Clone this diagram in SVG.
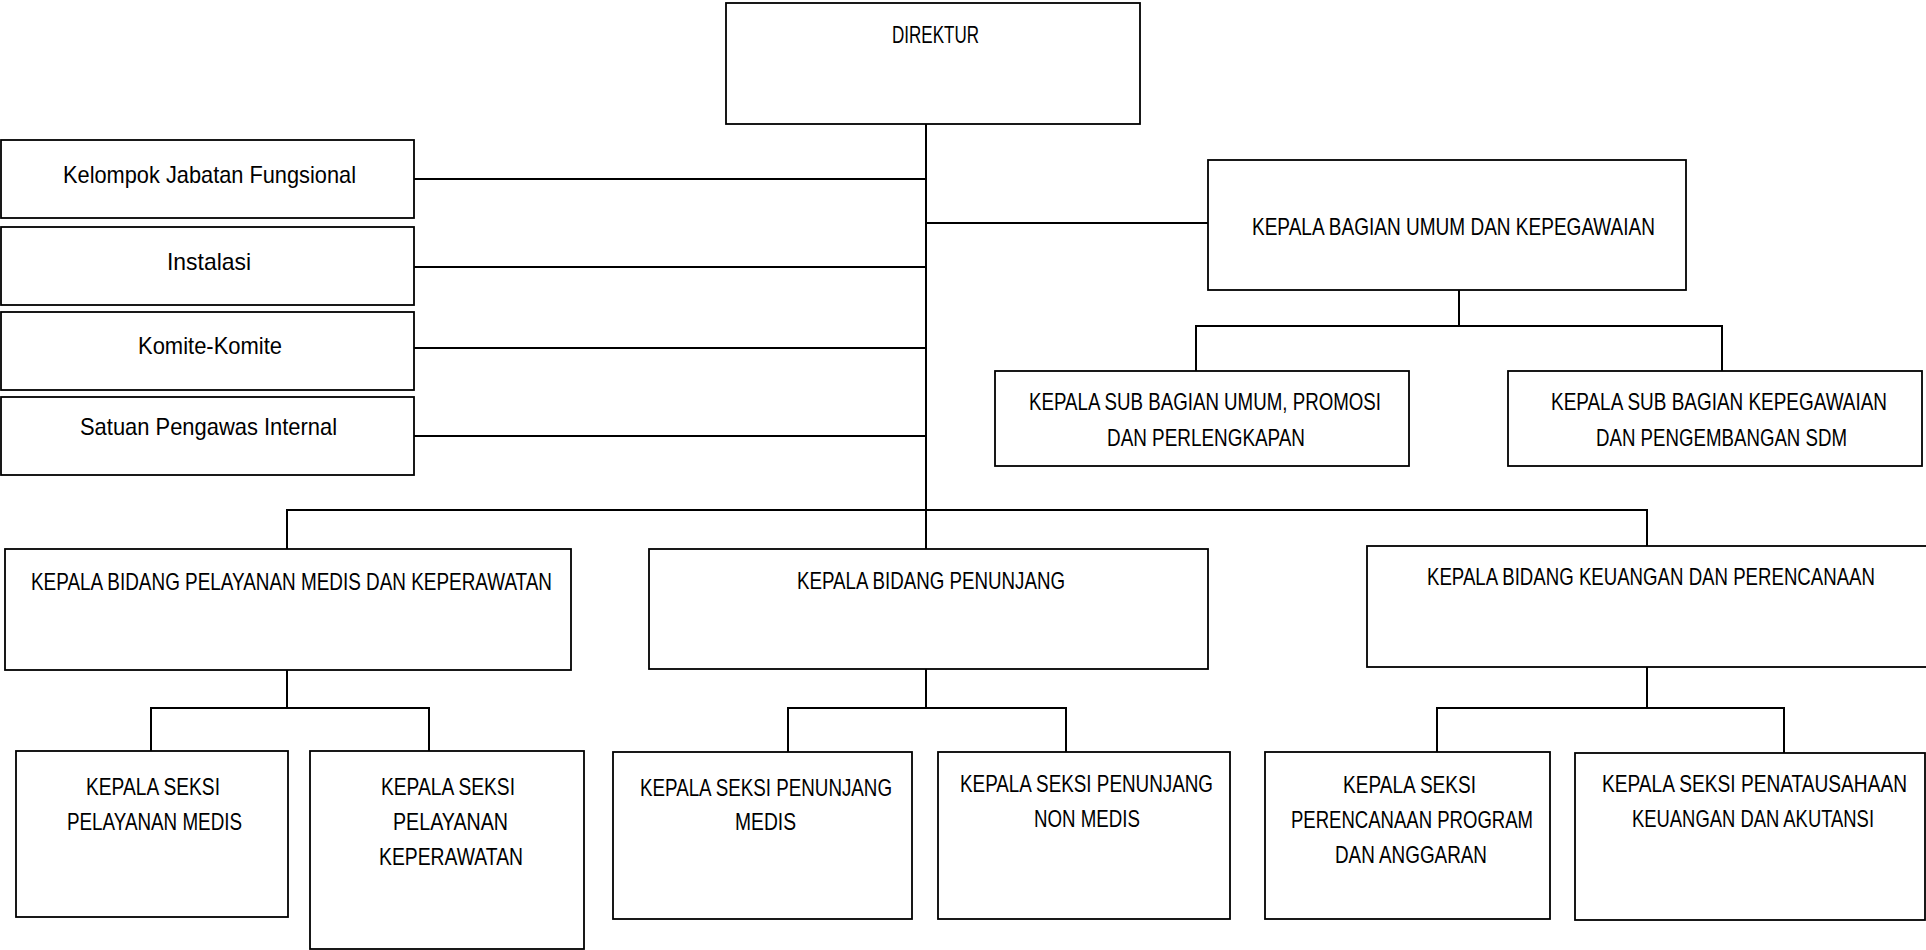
<svg xmlns="http://www.w3.org/2000/svg" width="1926" height="950" viewBox="0 0 1926 950">
<style>
.box{fill:#fff;stroke:#000;stroke-width:1.8}
.ln{fill:none;stroke:#000;stroke-width:2}
text{font-family:"Liberation Sans",Arial,sans-serif;font-size:24px;fill:#000}
</style>
<rect width="1926" height="950" fill="#fff"/>
<g id="connectors">
<path class="ln" d="M926 124V549M414 179H926M414 267H926M414 348H926M414 436H926M926 223H1208"/>
<path class="ln" d="M1459 290V326M1196 371V326H1722V371"/>
<path class="ln" d="M287 549V510H1647V546"/>
<path class="ln" d="M287 670V708M151 751V708H429V751"/>
<path class="ln" d="M926 669V708M788 752V708H1066V752"/>
<path class="ln" d="M1647 667V708M1437 753V708H1784V753"/>
</g>
<g id="direktur"><rect class="box" x="726" y="3" width="414" height="121"/><text x="892" y="43" textLength="87" lengthAdjust="spacingAndGlyphs">DIREKTUR</text></g>
<g id="kelompok-jabatan-fungsional"><rect class="box" x="1" y="140" width="413" height="78"/><text x="63" y="183" textLength="293" lengthAdjust="spacingAndGlyphs">Kelompok Jabatan Fungsional</text></g>
<g id="instalasi"><rect class="box" x="1" y="227" width="413" height="78"/><text x="167" y="270" textLength="84" lengthAdjust="spacingAndGlyphs">Instalasi</text></g>
<g id="komite-komite"><rect class="box" x="1" y="312" width="413" height="78"/><text x="138" y="354" textLength="144" lengthAdjust="spacingAndGlyphs">Komite-Komite</text></g>
<g id="satuan-pengawas-internal"><rect class="box" x="1" y="397" width="413" height="78"/><text x="80" y="435" textLength="257" lengthAdjust="spacingAndGlyphs">Satuan Pengawas Internal</text></g>
<g id="kepala-bagian-umum"><rect class="box" x="1208" y="160" width="478" height="130"/><text x="1252" y="235" textLength="403" lengthAdjust="spacingAndGlyphs">KEPALA BAGIAN UMUM DAN KEPEGAWAIAN</text></g>
<g id="subbag-umum"><rect class="box" x="995" y="371" width="414" height="95"/><text x="1029" y="410" textLength="352" lengthAdjust="spacingAndGlyphs">KEPALA SUB BAGIAN UMUM, PROMOSI</text><text x="1107" y="446" textLength="198" lengthAdjust="spacingAndGlyphs">DAN PERLENGKAPAN</text></g>
<g id="subbag-kepegawaian"><rect class="box" x="1508" y="371" width="414" height="95"/><text x="1551" y="410" textLength="336" lengthAdjust="spacingAndGlyphs">KEPALA SUB BAGIAN KEPEGAWAIAN</text><text x="1596" y="446" textLength="251" lengthAdjust="spacingAndGlyphs">DAN PENGEMBANGAN SDM</text></g>
<g id="kabid-pelayanan"><rect class="box" x="5" y="549" width="566" height="121"/><text x="31" y="590" textLength="521" lengthAdjust="spacingAndGlyphs">KEPALA BIDANG PELAYANAN MEDIS DAN KEPERAWATAN</text></g>
<g id="kabid-penunjang"><rect class="box" x="649" y="549" width="559" height="120"/><text x="797" y="589" textLength="268" lengthAdjust="spacingAndGlyphs">KEPALA BIDANG PENUNJANG</text></g>
<g id="kabid-keuangan"><rect class="box" x="1367" y="546" width="570" height="121"/><text x="1427" y="585" textLength="448" lengthAdjust="spacingAndGlyphs">KEPALA BIDANG KEUANGAN DAN PERENCANAAN</text></g>
<g id="seksi-pelayanan-medis"><rect class="box" x="16" y="751" width="272" height="166"/><text x="86" y="795" textLength="134" lengthAdjust="spacingAndGlyphs">KEPALA SEKSI</text><text x="67" y="830" textLength="175" lengthAdjust="spacingAndGlyphs">PELAYANAN MEDIS</text></g>
<g id="seksi-pelayanan-keperawatan"><rect class="box" x="310" y="751" width="274" height="198"/><text x="381" y="795" textLength="134" lengthAdjust="spacingAndGlyphs">KEPALA SEKSI</text><text x="393" y="830" textLength="115" lengthAdjust="spacingAndGlyphs">PELAYANAN</text><text x="379" y="865" textLength="144" lengthAdjust="spacingAndGlyphs">KEPERAWATAN</text></g>
<g id="seksi-penunjang-medis"><rect class="box" x="613" y="752" width="299" height="167"/><text x="640" y="796" textLength="252" lengthAdjust="spacingAndGlyphs">KEPALA SEKSI PENUNJANG</text><text x="735" y="830" textLength="61" lengthAdjust="spacingAndGlyphs">MEDIS</text></g>
<g id="seksi-penunjang-non-medis"><rect class="box" x="938" y="752" width="292" height="167"/><text x="960" y="792" textLength="253" lengthAdjust="spacingAndGlyphs">KEPALA SEKSI PENUNJANG</text><text x="1034" y="827" textLength="106" lengthAdjust="spacingAndGlyphs">NON MEDIS</text></g>
<g id="seksi-perencanaan"><rect class="box" x="1265" y="752" width="285" height="167"/><text x="1343" y="793" textLength="133" lengthAdjust="spacingAndGlyphs">KEPALA SEKSI</text><text x="1291" y="828" textLength="242" lengthAdjust="spacingAndGlyphs">PERENCANAAN PROGRAM</text><text x="1335" y="863" textLength="152" lengthAdjust="spacingAndGlyphs">DAN ANGGARAN</text></g>
<g id="seksi-penatausahaan"><rect class="box" x="1575" y="753" width="350" height="167"/><text x="1602" y="792" textLength="305" lengthAdjust="spacingAndGlyphs">KEPALA SEKSI PENATAUSAHAAN</text><text x="1632" y="827" textLength="242" lengthAdjust="spacingAndGlyphs">KEUANGAN DAN AKUTANSI</text></g>
</svg>
